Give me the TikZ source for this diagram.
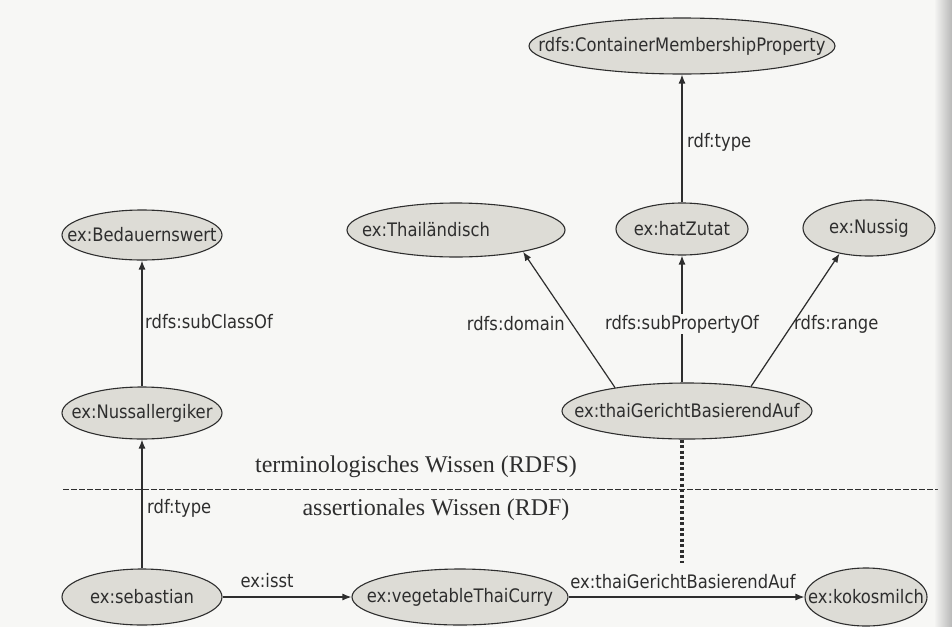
\documentclass[tikz,border=0pt]{standalone}
\usepackage{fontspec}
\setmainfont{Liberation Serif}
\newfontfamily\graphfont[FakeStretch=0.88]{DejaVu Sans}
\usetikzlibrary{shapes.geometric,arrows.meta,fadings}
\definecolor{paper}{HTML}{F7F7F5}
\definecolor{nodefill}{HTML}{DDDCD6}
\definecolor{ink}{HTML}{2E2E2E}
% node text that does not widen its ellipse
\newcommand{\nodetext}[1]{\makebox[0pt]{#1}}

\begin{document}
\begin{tikzpicture}[x=1pt,y=-1pt,
  ell/.style={ellipse, draw=ink, line width=1.1pt, fill=nodefill, inner sep=0pt,
    font=\graphfont\fontsize{18.6}{21}\selectfont, text=ink},
  rel/.style={draw=ink, line width=1.2pt, -{Latex[length=9pt,width=7pt]}},
  lbl/.style={font=\graphfont\fontsize{18.6}{21}\selectfont, inner sep=1pt, text=ink},
  layer/.style={font=\fontsize{24}{27}\selectfont, text=ink, inner sep=0pt}
]
% page
\fill[paper] (0,0) rectangle (952,627);
\useasboundingbox (0,0) rectangle (952,627);

% schema level (RDFS)
\node[ell, minimum width=306pt, minimum height=56pt] (cmp) at (682,46) {\nodetext{rdfs:ContainerMembershipProperty}};
\node[ell, minimum width=160pt, minimum height=50pt] (bed) at (142,235) {\nodetext{ex:Bedauernswert}};
\node[ell, minimum width=218pt, minimum height=54pt] (thai) at (456,230) {\nodetext{ex:Thailändisch\hspace*{60pt}}};
\node[ell, minimum width=132pt, minimum height=52pt] (hz) at (682,229) {\nodetext{ex:hatZutat}};
\node[ell, minimum width=132pt, minimum height=56pt] (nus) at (869,228) {\nodetext{ex:Nussig}};
\node[ell, minimum width=160pt, minimum height=52pt] (nall) at (142,413) {\nodetext{ex:Nussallergiker}};
\node[ell, minimum width=250pt, minimum height=56pt] (tg) at (687,411) {\nodetext{ex:thaiGerichtBasierendAuf}};

% instance level (RDF)
\node[ell, minimum width=160pt, minimum height=56pt] (seb) at (142,597) {\nodetext{ex:sebastian}};
\node[ell, minimum width=216pt, minimum height=56pt] (veg) at (460,597) {\nodetext{ex:vegetableThaiCurry}};
\node[ell, minimum width=122pt, minimum height=58pt] (koko) at (866,597) {\nodetext{ex:kokosmilch}};

% layer separation
\coordinate (sepl) at (63,489);
\coordinate (sepr) at (938,489);
\draw[ink, line width=0.8pt, dash pattern=on 6pt off 2pt] (sepl) -- (sepr);
\node[layer] (tbox) at (416,467) {terminologisches Wissen (RDFS)};
\node[layer] (abox) at (436,510) {assertionales Wissen (RDF)};

% link between property and its use
\coordinate (dotend) at (682,563);
\draw[ink, line width=3.5pt, dash pattern=on 3pt off 2.5pt] (tg.south -| dotend) -- (dotend);

% relations
\draw[rel] (hz.north) -- (cmp.south);
\node[lbl, anchor=west] (l1) at (686,142) {rdf:type};

\draw[rel] (nall.north) -- (bed.south);
\node[lbl, anchor=west] (l2) at (144,322) {rdfs:subClassOf};

\draw[rel] (tg.162) -- (thai.-18);
\node[lbl, anchor=east] (l3) at (566,324) {rdfs:domain};

\draw[rel] (tg.north -| hz) -- (hz.south);
\node[lbl, fill=paper] (l4) at (682,324) {rdfs:subPropertyOf};

\draw[rel] (tg.21) -- (nus.221);
\node[lbl, anchor=west] (l5) at (793,324) {rdfs:range};

\draw[rel] (seb.north) -- (nall.south);
\node[lbl, anchor=west] (l6) at (146,508) {rdf:type};

\draw[rel] (seb.east) -- (veg.west);
\node[lbl] (l7) at (267,581) {ex:isst};

\draw[rel] (veg.east) -- (koko.west);
\node[lbl] (l8) at (683,582) {ex:thaiGerichtBasierendAuf};

% shadow along the right edge of the page
\fill[black!28, path fading=west] (934,0) rectangle (952,627);
\end{tikzpicture}
\end{document}
